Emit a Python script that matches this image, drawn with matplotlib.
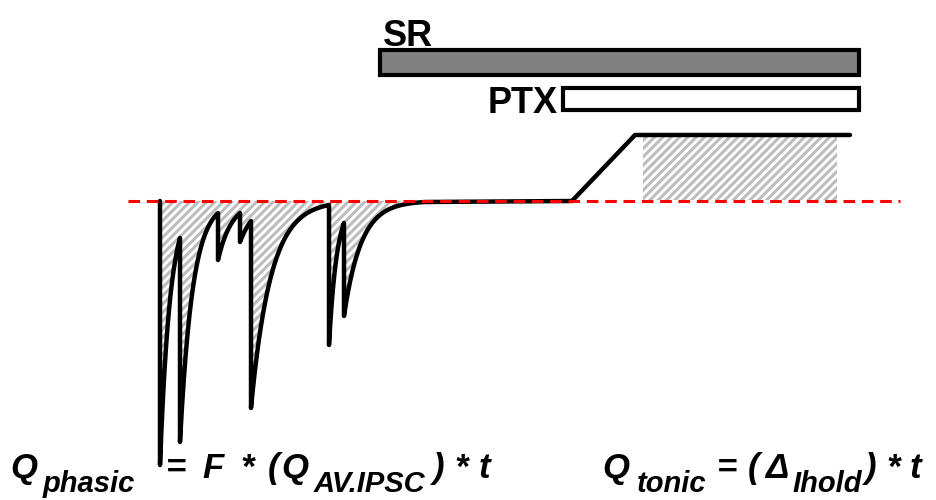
import matplotlib.pyplot as plt
import numpy as np
from matplotlib.patches import Rectangle

plt.rcParams["font.family"] = ["Liberation Sans", "DejaVu Sans"]
plt.rcParams["hatch.linewidth"] = 2.2

# Phasic IPSCs (time in px-like units, current relative to baseline, downward negative)
ipsc_onset = [160, 180, 218, 240, 251, 329, 344]
ipsc_peak = [-264, -241, -59, -41, -207, -144, -115]
ipsc_level_end = [-37, -12, -12, -20, -4, -22, -1]
phasic_end = 425

# Tonic shift after PTX application
ramp_x = [572, 635]
tonic_shift = 66
trace_end = 850
tonic_span = [643, 837]

# Drug application bars (start, end)
sr_span = [380, 859]
ptx_span = [563, 859]

# equation tokens: text, left x, subscript?
eq_phasic = [("Q", 10, False), ("phasic", 43, True), ("=", 166, False),
             ("F", 202, False), ("*", 240, False), ("(", 268, False),
             ("Q", 281, False), ("AV.IPSC", 314, True), (")", 432, False),
             ("*", 454, False), ("t", 479, False)]
eq_tonic = [("Q", 602, False), ("tonic", 637, True), ("=", 717, False),
            ("(", 748, False), ("\u0394", 765, False), ("Ihold", 792, True),
            (")", 864, False), ("*", 886, False), ("t", 910, False)]

# build the phasic part of the trace from the events
xs, ys = [ipsc_onset[0]], [0.0]
ends = ipsc_onset[1:] + [phasic_end]
for t0, t1, pk, lv in zip(ipsc_onset, ends, ipsc_peak, ipsc_level_end):
    tau = (t1 - t0) / np.log(pk / lv)
    seg_x = np.linspace(t0, t1, 80)
    xs.extend(seg_x)
    ys.extend(pk * np.exp(-(seg_x - t0) / tau))
phasic_x = np.array(xs)
phasic_y = np.array(ys)

trace_x = np.concatenate([phasic_x, [ramp_x[0], ramp_x[1], trace_end]])
trace_y = np.concatenate([phasic_y, [0, tonic_shift, tonic_shift]])

fig = plt.figure(figsize=(9.36, 5.0), dpi=100)
ax = fig.add_axes([0, 0, 1, 1])
ax.set_xlim(0, 936)
ax.set_ylim(-299, 201)
ax.axis("off")

hatch_grey = "#bdbdbd"
ax.fill_between(phasic_x, phasic_y, 0, facecolor="none", edgecolor=hatch_grey,
                hatch="////", linewidth=0, zorder=1)
ax.add_patch(Rectangle((tonic_span[0], 1), tonic_span[1] - tonic_span[0], tonic_shift - 3,
                       facecolor="none", edgecolor=hatch_grey, hatch="////",
                       linewidth=0, zorder=1))

ax.plot(trace_x, trace_y, color="black", lw=3.2, solid_joinstyle="round",
        solid_capstyle="round", zorder=2)
ax.plot([128, 900], [0, 0], color="red", lw=2.2, dashes=(3.8, 2.2), zorder=3)

# drug bars
ax.add_patch(Rectangle((sr_span[0], 126), sr_span[1] - sr_span[0], 25,
                       facecolor="#808080", edgecolor="black", lw=3))
ax.add_patch(Rectangle((ptx_span[0], 91), ptx_span[1] - ptx_span[0], 22,
                       facecolor="white", edgecolor="black", lw=3))
ax.text(383, 155, "SR", fontsize=26, fontweight="bold", va="baseline", ha="left")
ax.text(558, 88, "PTX", fontsize=26, fontweight="bold", va="baseline", ha="right")

for tokens in (eq_phasic, eq_tonic):
    for txt, x, sub in tokens:
        ax.text(x, -291 if sub else -277, txt, fontsize=21 if sub else 25,
                fontweight="bold", fontstyle="italic", va="baseline", ha="left")

fig.savefig("out.png", dpi=100)
